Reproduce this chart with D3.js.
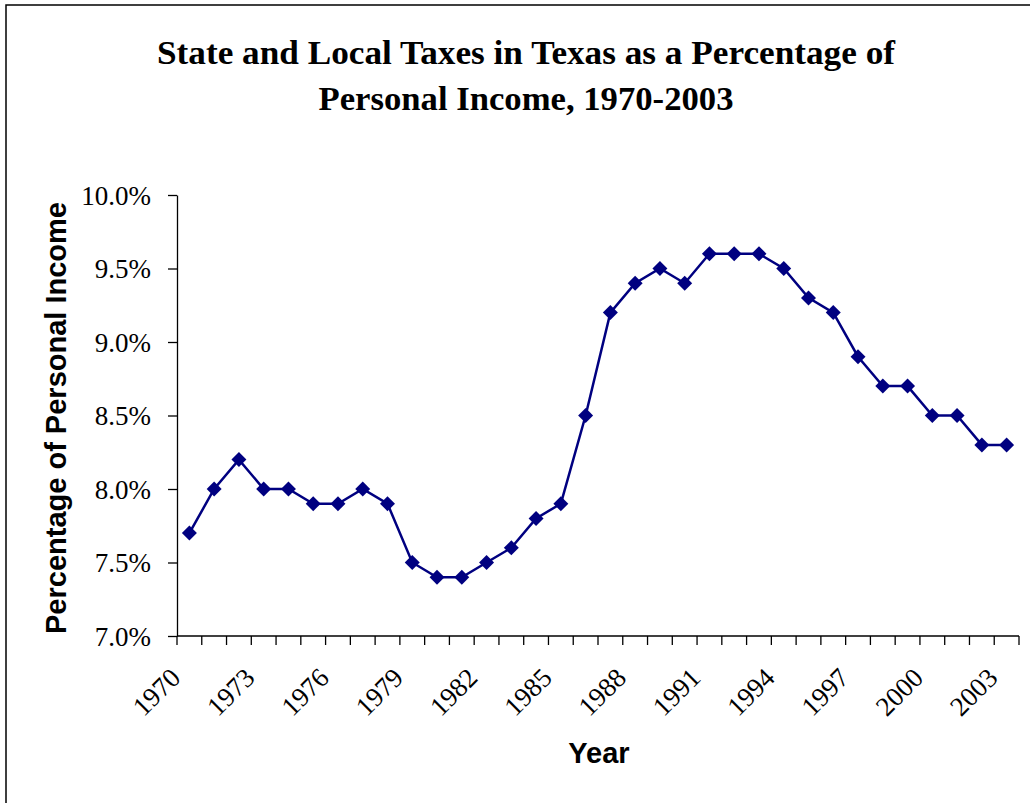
<!DOCTYPE html>
<html><head><meta charset="utf-8">
<script src="https://cdn.jsdelivr.net/npm/d3@7"></script>
<style>body{margin:0;background:#fff}</style>
</head><body>
<script>
const years = d3.range(1970, 2004).map(String);
const values = [7.7,8.0,8.2,8.0,8.0,7.9,7.9,8.0,7.9,7.5,7.4,7.4,7.5,7.6,7.8,7.9,8.5,9.2,9.4,9.5,9.4,9.6,9.6,9.6,9.5,9.3,9.2,8.9,8.7,8.7,8.5,8.5,8.3,8.3];
const yTicks = [7.0,7.5,8.0,8.5,9.0,9.5,10.0];
const shownYears = years.filter((d,i)=>i%3===0);
const titleLines = ["State and Local Taxes in Texas as a Percentage of","Personal Income, 1970-2003"];

const W=1030,H=803;
const serif="Liberation Serif, Times New Roman, serif";
const sans="Liberation Sans, Arial, sans-serif";
const svg=d3.select("body").append("svg").attr("width",W).attr("height",H);
svg.append("rect").attr("width",W).attr("height",H).attr("fill","#fff");
svg.append("rect").attr("x",6).attr("y",5).attr("width",1030).attr("height",810)
  .attr("fill","none").attr("stroke","#000").attr("stroke-width",1.5);

const L=177,R=1019,T=195,B=636;
const x=d3.scaleBand().domain(years).range([L,R]);
const y=d3.scaleLinear().domain([7,10]).range([B,T]);

// title
svg.append("text").attr("x",526).attr("y",64).attr("text-anchor","middle")
  .attr("font-family",serif).attr("font-weight","bold")
  .attr("font-size",34).attr("textLength",738).attr("lengthAdjust","spacingAndGlyphs").text(titleLines[0]);
svg.append("text").attr("x",526).attr("y",110).attr("text-anchor","middle")
  .attr("font-family",serif).attr("font-weight","bold")
  .attr("font-size",34).attr("textLength",415).attr("lengthAdjust","spacingAndGlyphs").text(titleLines[1]);

// y axis
const yAxis=d3.axisLeft(y).tickValues(yTicks).tickFormat(d=>d.toFixed(1)+"%").tickSize(9).tickSizeOuter(0);
const gy=svg.append("g").attr("transform",`translate(${L},0)`).call(yAxis);
gy.selectAll("text").attr("font-family",serif).attr("font-size",27).attr("fill","#000").attr("x",-26).attr("dy","0.34em");
gy.selectAll("line,path").attr("stroke","#000").attr("stroke-width",1.3);

// x axis: ticks at band boundaries
const gx=svg.append("g").attr("transform",`translate(0,${B})`);
gx.append("line").attr("x1",L).attr("x2",R).attr("y1",0).attr("y2",0).attr("stroke","#000").attr("stroke-width",1.3);
const bounds=years.map(d=>x(d)).concat([R]);
gx.selectAll("line.tk").data(bounds).join("line").attr("class","tk")
  .attr("x1",d=>d).attr("x2",d=>d).attr("y1",0).attr("y2",9).attr("stroke","#000").attr("stroke-width",1.3);
gx.selectAll("text").data(shownYears).join("text")
  .attr("transform",d=>`translate(${x(d)+x.bandwidth()/2-33},${56}) rotate(-45)`)
  .attr("text-anchor","middle").attr("dy","0.34em")
  .attr("font-family",serif).attr("font-size",27).text(d=>d);

// axis titles
svg.append("text").attr("transform",`translate(66,418) rotate(-90)`).attr("text-anchor","middle")
  .attr("font-family",sans).attr("font-weight","bold").attr("font-size",29)
  .text("Percentage of Personal Income");
svg.append("text").attr("x",599).attr("y",763).attr("text-anchor","middle")
  .attr("font-family",sans).attr("font-weight","bold").attr("font-size",29)
  .text("Year");

// line
const cx=d=>x(d)+x.bandwidth()/2;
const line=d3.line().x((v,i)=>cx(years[i])).y(v=>y(v));
svg.append("path").datum(values).attr("d",line).attr("fill","none").attr("stroke","#000080").attr("stroke-width",2.5);
svg.selectAll("path.m").data(values).join("path").attr("class","m")
  .attr("transform",(v,i)=>`translate(${cx(years[i])},${y(v)}) rotate(45)`)
  .attr("d",d3.symbol().type(d3.symbolSquare).size(112)).attr("fill","#000080");
</script>
</body></html>
